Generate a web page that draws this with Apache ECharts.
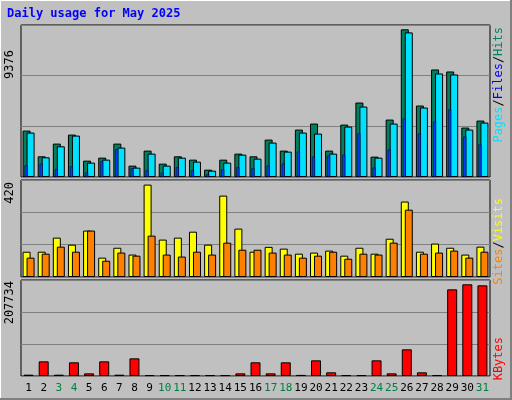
<!DOCTYPE html>
<html>
<head>
<meta charset="utf-8">
<script src="https://cdn.jsdelivr.net/npm/echarts@6/dist/echarts.min.js"></script>
<style>
  html, body { margin: 0; padding: 0; background: #c0c0c0; }
  #chart { width: 512px; height: 400px; }
</style>
</head>
<body>
<div id="chart"></div>
<script>
// donnees
var days = ['1','2','3','4','5','6','7','8','9','10','11','12','13','14','15','16',
            '17','18','19','20','21','22','23','24','25','26','27','28','29','30','31'];
var weekend = ['3','4','10','11','17','18','24','25','31'];
var hits  = [2947,1314,2120,2692,1039,1230,2120,721,1675,848,1314,1102,466,1102,1484,1314,
             2374,1675,3010,3392,1675,3328,4728,1293,3646,9376,4537,6826,6699,3138,3583];
var files = [2820,1251,1950,2629,912,1102,1866,594,1484,721,1230,975,403,912,1420,1166,
             2184,1611,2820,2756,1484,3201,4473,1230,3392,9180,4410,6572,6508,3010,3456];
var pages = [742,848,488,678,276,996,1760,551,424,276,615,424,170,488,615,551,
             721,848,1611,1293,1357,1420,2756,594,1738,3710,2756,3519,4282,2565,2056];
var visits = [115,115,179,147,211,88,133,102,420,170,179,206,147,370,220,115,
              137,129,106,111,120,97,133,106,174,343,115,152,133,102,138];
var sites  = [88,106,138,115,211,74,111,97,188,102,93,115,102,156,124,124,
              111,102,88,97,115,83,106,102,156,306,106,111,120,88,115];
var kbytes = [3000,33200,3000,31000,6000,33200,3000,40000,2000,2000,2000,2000,2000,2000,6000,31000,
              6000,31000,2500,35500,8300,2000,2000,35500,6000,60400,8300,2000,196300,207734,205400];

var fontFamily = 'DejaVu Sans Mono';
var maxTop = 9650, maxMid = 441, maxBot = 217500;

var chart = echarts.init(document.getElementById('chart'), null, {renderer: 'canvas'});

function grid(top, height, dx) {
  return {left: 21 + dx, width: 469, top: top, height: height,
          show: dx === 0, borderColor: '#000', borderWidth: 1, backgroundColor: 'transparent'};
}
function xAx(gi, showLabels) {
  return {
    type: 'category', gridIndex: gi, data: days,
    axisTick: {show: false}, axisLine: {show: false},
    axisLabel: {
      show: showLabels, margin: 7, interval: 0, fontFamily: fontFamily, fontSize: 11,
      formatter: function (v) { return weekend.indexOf(v) >= 0 ? '{w|' + v + '}' : '{n|' + v + '}'; },
      rich: {w: {color: '#008040', fontFamily: fontFamily, fontSize: 11},
             n: {color: '#000', fontFamily: fontFamily, fontSize: 11}}
    }
  };
}
function yAx(gi, max, showGrid) {
  return {
    type: 'value', gridIndex: gi, min: 0, max: max, interval: max / 3,
    axisLabel: {show: false}, axisTick: {show: false}, axisLine: {show: false},
    splitLine: {show: showGrid, lineStyle: {color: '#808080', width: 1}}
  };
}
var barBorder = {borderColor: '#000', borderWidth: 1};

var option = {
  animation: false,
  backgroundColor: '#c0c0c0',
  grid: [grid(25, 152, 0), grid(25, 152, -2.5), grid(180, 97, 0), grid(280, 96, 0)],
  xAxis: [xAx(0, false), xAx(1, false), xAx(2, false), xAx(3, true)],
  yAxis: [yAx(0, maxTop, true), yAx(1, maxTop, false), yAx(2, maxMid, true), yAx(3, maxBot, true)],
  series: [
    {name: 'Hits', type: 'bar', xAxisIndex: 0, yAxisIndex: 0, data: hits, barWidth: 8, barGap: '-50%',
     itemStyle: Object.assign({color: '#008060'}, barBorder)},
    {name: 'Files', type: 'bar', xAxisIndex: 0, yAxisIndex: 0, data: files, barWidth: 8, barGap: '-50%',
     itemStyle: Object.assign({color: '#00e0ff'}, barBorder)},
    {name: 'Pages', type: 'bar', xAxisIndex: 1, yAxisIndex: 1, data: pages, barWidth: 3,
     itemStyle: {color: '#0040ff', borderColor: '#000', borderWidth: 0.5}},
    {name: 'Visits', type: 'bar', xAxisIndex: 2, yAxisIndex: 2, data: visits, barWidth: 8, barGap: '-50%',
     itemStyle: Object.assign({color: '#ffff00'}, barBorder)},
    {name: 'Sites', type: 'bar', xAxisIndex: 2, yAxisIndex: 2, data: sites, barWidth: 8, barGap: '-50%',
     itemStyle: Object.assign({color: '#ff8000'}, barBorder)},
    {name: 'KBytes', type: 'bar', xAxisIndex: 3, yAxisIndex: 3, data: kbytes, barWidth: 10,
     itemStyle: Object.assign({color: '#ff0000'}, barBorder)}
  ],
  graphic: [
    // cadre en relief
    {type: 'line', shape: {x1: 0.5, y1: 0.5, x2: 511.5, y2: 0.5}, style: {stroke: '#fff', lineWidth: 1}},
    {type: 'line', shape: {x1: 0.5, y1: 0.5, x2: 0.5, y2: 399.5}, style: {stroke: '#fff', lineWidth: 1}},
    {type: 'line', shape: {x1: 511, y1: 0, x2: 511, y2: 400}, style: {stroke: '#808080', lineWidth: 2}},
    {type: 'line', shape: {x1: 0, y1: 399, x2: 512, y2: 399}, style: {stroke: '#808080', lineWidth: 2}},
    {type: 'text', left: 7, top: 8, style: {text: 'Daily usage for May 2025', fill: '#0000ff',
      font: 'bold 12px "DejaVu Sans Mono"'}},
    {type: 'text', x: 10, y: 50, rotation: Math.PI / 2, style: {text: '9376', fill: '#000',
      font: '12px "DejaVu Sans Mono"', align: 'right', verticalAlign: 'middle'}},
    {type: 'text', x: 10, y: 182, rotation: Math.PI / 2, style: {text: '420', fill: '#000',
      font: '12px "DejaVu Sans Mono"', align: 'right', verticalAlign: 'middle'}},
    {type: 'text', x: 10, y: 281, rotation: Math.PI / 2, style: {text: '207734', fill: '#000',
      font: '12px "DejaVu Sans Mono"', align: 'right', verticalAlign: 'middle'}},
    {type: 'text', x: 499, y: 27, rotation: Math.PI / 2, style: {
      text: '{p|Pages}{s|/}{f|Files}{s|/}{h|Hits}', align: 'right', verticalAlign: 'middle',
      rich: {p: {fill: '#00e0ff', font: '12px "DejaVu Sans Mono"'},
             f: {fill: '#0000ff', font: '12px "DejaVu Sans Mono"'},
             h: {fill: '#008060', font: '12px "DejaVu Sans Mono"'},
             s: {fill: '#000', font: '12px "DejaVu Sans Mono"'}}}},
    {type: 'text', x: 499, y: 198, rotation: Math.PI / 2, style: {
      text: '{a|Sites}{s|/}{b|Visits}', align: 'right', verticalAlign: 'middle',
      rich: {a: {fill: '#ff8000', font: '12px "DejaVu Sans Mono"'},
             b: {fill: '#ffff00', font: '12px "DejaVu Sans Mono"'},
             s: {fill: '#000', font: '12px "DejaVu Sans Mono"'}}}},
    {type: 'text', x: 499, y: 337, rotation: Math.PI / 2, style: {
      text: 'KBytes', fill: '#ff0000', font: '12px "DejaVu Sans Mono"',
      align: 'right', verticalAlign: 'middle'}}
  ]
};
chart.setOption(option);
</script>
</body>
</html>
